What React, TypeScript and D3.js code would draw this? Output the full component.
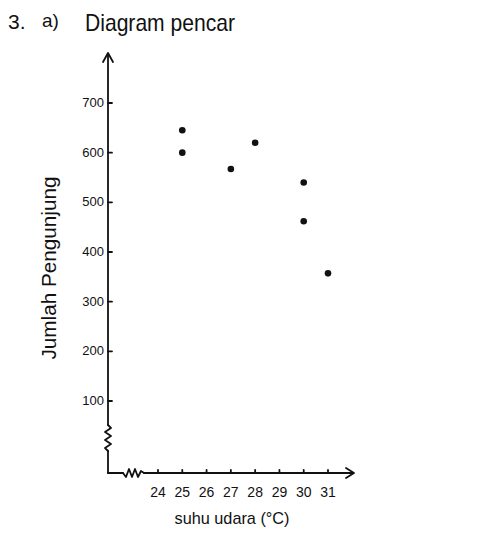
import React from "react";
import * as d3 from "d3";

const temperatures = [25, 25, 27, 28, 30, 30, 31];
const visitors = [645, 600, 567, 620, 540, 462, 357];
const xTicks = [24, 25, 26, 27, 28, 29, 30, 31];
const yTicks = [100, 200, 300, 400, 500, 600, 700];

const W = 502;
const H = 546;
const FONT = "'Liberation Sans', 'DejaVu Sans', sans-serif";

export default function App() {
  const x = d3.scaleLinear().domain([24, 31]).range([158, 328]);
  const y = d3.scaleLinear().domain([100, 700]).range([401, 103]);
  const axisX = 108;
  const axisY = 473;

  const zigV = d3.line()([
    [axisX, 425], [axisX + 3, 428], [axisX - 3, 432], [axisX + 3, 436],
    [axisX - 3, 440], [axisX + 3, 444], [axisX - 3, 448], [axisX, 451],
  ]);
  const zigH = d3.line()([
    [123, axisY], [126, axisY + 4], [129, axisY - 4], [132, axisY + 4],
    [135, axisY - 4], [138, axisY + 4], [141, axisY - 2], [144, axisY],
  ]);

  const data = temperatures.map((t, i) => ({ t, v: visitors[i] }));

  return (
    <svg width={W} height={H} style={{ position: "fixed", left: 0, top: 0, background: "#fff" }}>
      <rect width={W} height={H} fill="#fff" />
      <g fontFamily={FONT} fill="#111">
        <text x={8} y={29} fontSize={21}>3.</text>
        <text x={42} y={27} fontSize={19}>a)</text>
        <text x={85} y={31} fontSize={24} textLength={150} lengthAdjust="spacingAndGlyphs">Diagram pencar</text>
      </g>

      <g stroke="#111" strokeWidth={1.8} fill="none" strokeLinecap="round" strokeLinejoin="round">
        <line x1={axisX} y1={54} x2={axisX} y2={425} />
        <path d={zigV || ""} />
        <line x1={axisX} y1={451} x2={axisX} y2={axisY} />
        <path d={`M${axisX - 5},62 L${axisX},53 L${axisX + 5},62`} />
        <line x1={axisX} y1={axisY} x2={123} y2={axisY} />
        <path d={zigH || ""} />
        <line x1={144} y1={axisY} x2={353} y2={axisY} />
        <path d={`M${346},${axisY - 5} L${354},${axisY} L${346},${axisY + 5}`} />
        {yTicks.map((t) => (
          <line key={t} x1={axisX} y1={y(t)} x2={axisX + 4} y2={y(t)} />
        ))}
        {xTicks.map((t) => (
          <line key={t} x1={x(t)} y1={axisY} x2={x(t)} y2={axisY - 3} />
        ))}
      </g>

      <g fontFamily={FONT} fill="#111" fontSize={13}>
        {yTicks.map((t) => (
          <text key={t} x={axisX - 4} y={y(t) + 4} textAnchor="end">{t}</text>
        ))}
        {xTicks.map((t) => (
          <text key={t} x={x(t)} y={497} textAnchor="middle" fontSize={14}>{t}</text>
        ))}
      </g>

      <text x={232} y={524} fontFamily={FONT} fontSize={17} textAnchor="middle" fill="#111"
        textLength={115} lengthAdjust="spacingAndGlyphs">
        suhu udara (°C)
      </text>
      <text
        transform="translate(56,268) rotate(-90)"
        fontFamily={FONT}
        fontSize={20}
        textAnchor="middle"
        fill="#111"
        textLength={183}
        lengthAdjust="spacingAndGlyphs"
      >
        Jumlah Pengunjung
      </text>

      <g fill="#111">
        {data.map((d, i) => (
          <circle key={i} cx={x(d.t)} cy={y(d.v)} r={3.3} />
        ))}
      </g>
    </svg>
  );
}
